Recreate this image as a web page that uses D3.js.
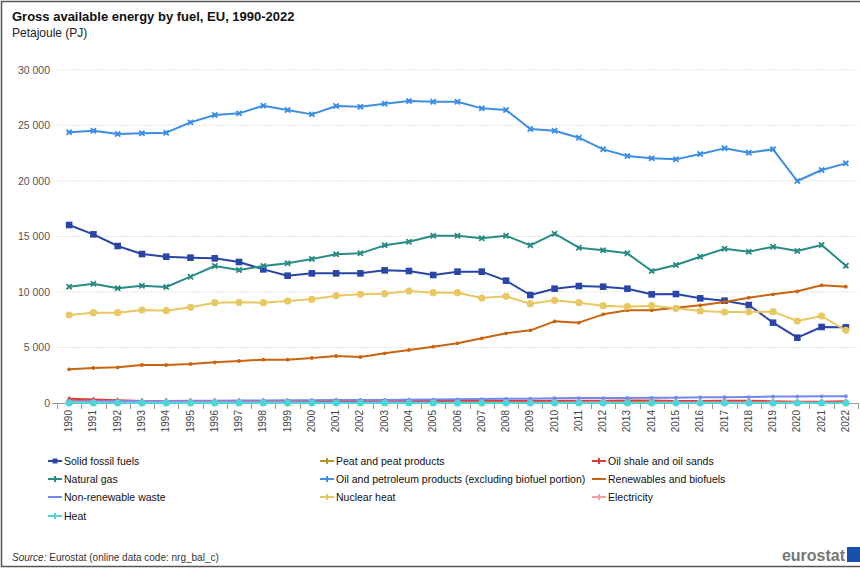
<!DOCTYPE html>
<html><head><meta charset="utf-8">
<script src="https://cdn.jsdelivr.net/npm/d3@7"></script>
<style>
body{margin:0;background:#fff;}
svg{display:block;font-family:"Liberation Sans",Arial,sans-serif;}
</style></head>
<body><svg id="c" width="860" height="570"></svg>
<script>
const years = d3.range(1990, 2023).map(String);
const yTicks = [0, 5000, 10000, 15000, 20000, 25000, 30000];

const solidFossil = [16020,15180,14130,13410,13170,13080,13020,12690,12030,11460,11670,11670,11670,11940,11880,11520,11820,11820,11010,9720,10290,10530,10470,10290,9780,9810,9420,9210,8820,7230,5880,6840,6810];
const peat = [200,190,180,170,170,160,160,160,150,150,140,140,130,130,130,120,120,120,110,100,110,100,100,90,90,90,80,80,80,70,60,60,60];
const oilShale = [380,310,240,190,190,170,170,170,160,150,150,150,160,180,180,180,170,200,190,180,210,210,200,220,220,190,190,210,210,160,110,120,150];
const naturalGas = [10470,10740,10320,10560,10440,11370,12330,11970,12330,12570,12960,13380,13470,14190,14520,15060,15060,14820,15060,14190,15240,13980,13740,13470,11880,12420,13170,13890,13620,14070,13680,14220,12360];
const oil = [24360,24510,24210,24270,24330,25260,25920,26070,26760,26370,25980,26730,26670,26940,27180,27120,27120,26520,26370,24660,24500,23880,22830,22230,22020,21930,22410,22920,22530,22830,19980,20970,21570];
const renewables = [3030,3150,3210,3420,3420,3510,3660,3780,3900,3900,4050,4230,4140,4470,4770,5070,5370,5820,6270,6540,7350,7230,7980,8340,8340,8580,8790,9090,9480,9780,10050,10590,10470];
const nonRenewableWaste = [150,160,170,180,190,200,210,220,230,240,250,270,270,280,300,310,330,350,380,390,430,440,440,460,470,480,510,520,530,580,580,600,610];
const nuclear = [7920,8130,8130,8370,8310,8610,9030,9060,9030,9180,9330,9660,9780,9840,10080,9930,9930,9450,9600,8940,9240,9030,8760,8670,8760,8520,8280,8190,8190,8220,7380,7830,6540];
const electricity = [60,50,50,40,40,50,40,40,40,40,30,30,30,40,30,30,30,30,30,30,30,40,40,30,40,50,40,40,40,40,40,30,20];
const heat = [0,0,0,0,0,0,0,0,0,0,0,0,0,0,0,0,0,0,0,0,0,0,0,0,0,0,0,0,0,0,0,0,0];

const seriesNames = ["Solid fossil fuels","Peat and peat products","Oil shale and oil sands","Natural gas","Oil and petroleum products (excluding biofuel portion)","Renewables and biofuels","Non-renewable waste","Nuclear heat","Electricity","Heat"];
const seriesValues = [solidFossil, peat, oilShale, naturalGas, oil, renewables, nonRenewableWaste, nuclear, electricity, heat];
const seriesColors = ["#2a45a8","#b59524","#e03a3a","#2a8c86","#3d8fe3","#c9640f","#7388ee","#e8c862","#f3a2a2","#4fd5d8"];
const seriesMarkers = ["square","plus","triangle","cross","cross","dot","dot","circle","plus","circle"];

const svg = d3.select("#c");
// frame
svg.append("rect").attr("x",1.5).attr("y",1.5).attr("width",870).attr("height",565)
  .attr("fill","none").attr("stroke","#555").attr("stroke-width",1.5);

svg.append("text").attr("x",12).attr("y",21).attr("font-size",13).attr("font-weight","bold").attr("fill","#111")
  .text("Gross available energy by fuel, EU, 1990-2022");
svg.append("text").attr("x",12).attr("y",37).attr("font-size",12).attr("fill","#222").text("Petajoule (PJ)");

const x = d3.scaleBand().domain(years).range([57, 858]);
const y = d3.scaleLinear().domain([0, 30000]).range([403, 69.7]);

// gridlines
svg.append("g").selectAll("line").data(yTicks.filter(d=>d>0)).join("line")
  .attr("x1",57).attr("x2",858).attr("y1",d=>y(d)).attr("y2",d=>y(d))
  .attr("stroke","#e2e2e2").attr("stroke-width",1).attr("stroke-dasharray","2,1");

// y axis labels
const yAxis = d3.axisLeft(y).tickValues(yTicks).tickSize(0).tickPadding(0)
  .tickFormat(d => d3.format(",")(d).replace(/,/g," "));
const gy = svg.append("g").attr("transform","translate(50,0)").call(yAxis);
gy.select(".domain").remove();
gy.selectAll("text").attr("font-size",10.5).attr("fill","#555").attr("font-family","Liberation Sans, Arial, sans-serif");

// x axis
const xAxis = d3.axisBottom(x).tickSize(0).tickPadding(0);
const gx = svg.append("g").attr("transform","translate(0,403)").call(xAxis);
gx.select(".domain").attr("stroke","#999").attr("d","M52,0.5H858");
gx.selectAll("text").attr("font-size",10).attr("fill","#444")
  .attr("font-family","Liberation Sans, Arial, sans-serif")
  .attr("transform","rotate(-90)").attr("text-anchor","end").attr("x",-7).attr("y",-0.5).attr("dy","0.35em");
svg.append("g").selectAll("line").data(years.concat(["end"])).join("line")
  .attr("x1",(d,i)=>Math.round(57 + i*x.step())+0.5).attr("x2",(d,i)=>Math.round(57 + i*x.step())+0.5)
  .attr("y1",403).attr("y2",409).attr("stroke","#999");

function drawMarker(g, type, color) {
  if (type === "square") g.append("rect").attr("x",-3.3).attr("y",-3.3).attr("width",6.6).attr("height",6.6).attr("fill",color);
  else if (type === "circle") g.append("circle").attr("r",3.6).attr("fill",color);
  else if (type === "dot") g.append("circle").attr("r",1.9).attr("fill",color);
  else if (type === "triangle") g.append("path").attr("d","M0,-3L3,2.5L-3,2.5Z").attr("fill",color);
  else if (type === "plus") g.append("path").attr("d","M-3,0H3M0,-3V3").attr("stroke",color).attr("stroke-width",1.6);
  else if (type === "cross") {
    g.append("path").attr("d","M-2.6,-2.6L2.6,2.6M2.6,-2.6L-2.6,2.6").attr("stroke",color).attr("stroke-width",1.8);
    g.append("rect").attr("x",-1.6).attr("y",-1.6).attr("width",3.2).attr("height",3.2).attr("fill",color);
  }
}

const line = d3.line().x((d,i)=>x(years[i]) + x.bandwidth()/2).y(d=>y(d));
const plot = svg.append("g");
seriesValues.forEach((vals, si) => {
  const g = plot.append("g");
  g.append("path").attr("d", line(vals)).attr("fill","none")
    .attr("stroke", seriesColors[si]).attr("stroke-width", 2).attr("stroke-linejoin","round");
  vals.forEach((v,i) => {
    const m = g.append("g").attr("transform",`translate(${x(years[i]) + x.bandwidth()/2},${y(v)})`);
    drawMarker(m, seriesMarkers[si], seriesColors[si]);
  });
});

// legend
const colX = [48, 320, 592];
const rowY = [461, 479, 497, 516];
const leg = svg.append("g");
seriesNames.forEach((name, i) => {
  const cx = colX[i % 3], cy = rowY[Math.floor(i / 3)];
  const g = leg.append("g").attr("transform",`translate(${cx},${cy})`);
  g.append("line").attr("x1",0).attr("x2",14).attr("y1",0).attr("y2",0).attr("stroke",seriesColors[i]).attr("stroke-width",2);
  const m = g.append("g").attr("transform","translate(7,0)");
  const t = seriesMarkers[i];
  if (t === "square") m.append("rect").attr("x",-2.5).attr("y",-2.5).attr("width",5).attr("height",5).attr("fill",seriesColors[i]);
  else if (t === "dot") {}
  else m.append("path").attr("d","M-2.5,0H2.5M0,-3V3").attr("stroke",seriesColors[i]).attr("stroke-width",2);
  g.append("text").attr("x",16).attr("y",0).attr("dy","0.35em").attr("font-size",10.5)
    .attr("font-family","Liberation Sans Narrow, Arial Narrow, sans-serif").attr("fill","#111").text(name);
});

// source
const src = svg.append("text").attr("x",12).attr("y",561).attr("font-size",10)
  .attr("font-family","Liberation Sans Narrow, Arial Narrow, sans-serif").attr("fill","#333");
src.append("tspan").attr("font-style","italic").text("Source:");
src.append("tspan").text(" Eurostat (online data code: nrg_bal_c)");

// eurostat logo
svg.append("text").attr("x",845).attr("y",561).attr("text-anchor","end").attr("font-size",16).attr("font-weight","bold")
  .attr("fill","#777").text("eurostat");
svg.append("rect").attr("x",847).attr("y",547).attr("width",16).attr("height",15).attr("fill","#1b4fae");
</script>
</body></html>
